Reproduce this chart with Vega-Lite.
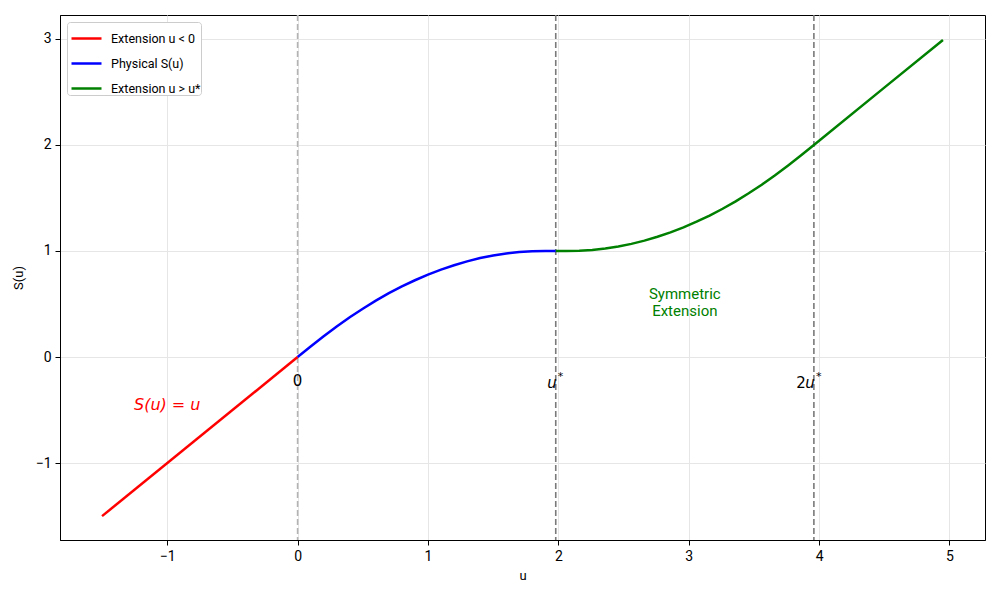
{
  "$schema": "https://vega.github.io/schema/vega-lite/v6.json",
  "width": 925,
  "height": 525,
  "autosize": {"type": "none"},
  "padding": {"left": 60, "top": 15, "right": 15, "bottom": 60},
  "background": "white",
  "config": {
    "font": "Roboto",
    "view": {"stroke": "black", "strokeWidth": 1},
    "axis": {
      "labelFont": "Roboto", "titleFont": "Roboto",
      "labelFontSize": 14, "titleFontSize": 13, "titleFontWeight": "normal",
      "labelColor": "black", "titleColor": "black",
      "tickColor": "black", "domainColor": "black", "tickSize": 5,
      "gridColor": "#e6e6e6", "gridWidth": 1
    }
  },
  "datasets": {
    "curves": [
      {"series": "Extension u < 0", "u": -1.5, "S": -1.5},
      {"series": "Extension u < 0", "u": 0, "S": 0},
      {"series": "Physical S(u)", "u": 0, "S": 0},
      {"series": "Physical S(u)", "u": 0.1, "S": 0.1},
      {"series": "Physical S(u)", "u": 0.2, "S": 0.196},
      {"series": "Physical S(u)", "u": 0.3, "S": 0.288},
      {"series": "Physical S(u)", "u": 0.4, "S": 0.375},
      {"series": "Physical S(u)", "u": 0.5, "S": 0.456},
      {"series": "Physical S(u)", "u": 0.6, "S": 0.532},
      {"series": "Physical S(u)", "u": 0.7, "S": 0.602},
      {"series": "Physical S(u)", "u": 0.8, "S": 0.666},
      {"series": "Physical S(u)", "u": 0.9, "S": 0.724},
      {"series": "Physical S(u)", "u": 1.0, "S": 0.777},
      {"series": "Physical S(u)", "u": 1.1, "S": 0.824},
      {"series": "Physical S(u)", "u": 1.2, "S": 0.866},
      {"series": "Physical S(u)", "u": 1.3, "S": 0.902},
      {"series": "Physical S(u)", "u": 1.4, "S": 0.933},
      {"series": "Physical S(u)", "u": 1.5, "S": 0.958},
      {"series": "Physical S(u)", "u": 1.6, "S": 0.977},
      {"series": "Physical S(u)", "u": 1.7, "S": 0.99},
      {"series": "Physical S(u)", "u": 1.8, "S": 0.997},
      {"series": "Physical S(u)", "u": 1.9, "S": 0.9995},
      {"series": "Physical S(u)", "u": 1.98, "S": 1.0},
      {"series": "Extension u > u*", "u": 1.98, "S": 1.0},
      {"series": "Extension u > u*", "u": 2.06, "S": 1.0005},
      {"series": "Extension u > u*", "u": 2.16, "S": 1.003},
      {"series": "Extension u > u*", "u": 2.26, "S": 1.01},
      {"series": "Extension u > u*", "u": 2.36, "S": 1.023},
      {"series": "Extension u > u*", "u": 2.46, "S": 1.042},
      {"series": "Extension u > u*", "u": 2.56, "S": 1.067},
      {"series": "Extension u > u*", "u": 2.66, "S": 1.098},
      {"series": "Extension u > u*", "u": 2.76, "S": 1.134},
      {"series": "Extension u > u*", "u": 2.86, "S": 1.176},
      {"series": "Extension u > u*", "u": 2.96, "S": 1.223},
      {"series": "Extension u > u*", "u": 3.06, "S": 1.276},
      {"series": "Extension u > u*", "u": 3.16, "S": 1.334},
      {"series": "Extension u > u*", "u": 3.26, "S": 1.398},
      {"series": "Extension u > u*", "u": 3.36, "S": 1.468},
      {"series": "Extension u > u*", "u": 3.46, "S": 1.544},
      {"series": "Extension u > u*", "u": 3.56, "S": 1.625},
      {"series": "Extension u > u*", "u": 3.66, "S": 1.712},
      {"series": "Extension u > u*", "u": 3.76, "S": 1.804},
      {"series": "Extension u > u*", "u": 3.86, "S": 1.9},
      {"series": "Extension u > u*", "u": 3.96, "S": 2.0},
      {"series": "Extension u > u*", "u": 4.5, "S": 2.54},
      {"series": "Extension u > u*", "u": 4.95, "S": 2.99}
    ]
  },
  "layer": [
    {
      "data": {"values": [{"u": 0}]},
      "mark": {"type": "rule", "color": "#b3b3b3", "strokeWidth": 1.6, "strokeDash": [6, 3]},
      "encoding": {"x": {"field": "u", "type": "quantitative", "scale": {"domain": [-1.8225, 5.2725], "nice": false, "zero": false}}}
    },
    {
      "data": {"values": [{"u": 1.98}, {"u": 3.96}]},
      "mark": {"type": "rule", "color": "#7a7a7a", "strokeWidth": 1.6, "strokeDash": [6, 3]},
      "encoding": {"x": {"field": "u", "type": "quantitative"}}
    },
    {
      "data": {"name": "curves"},
      "mark": {"type": "line", "strokeWidth": 2.5, "clip": true},
      "encoding": {
        "x": {"field": "u", "type": "quantitative", "title": "u",
              "scale": {"domain": [-1.8225, 5.2725], "nice": false, "zero": false},
              "axis": {"values": [-1, 0, 1, 2, 3, 4, 5], "format": "d", "labelPadding": 4, "titlePadding": 6}},
        "y": {"field": "S", "type": "quantitative", "title": "S(u)",
              "scale": {"domain": [-1.725, 3.225], "nice": false, "zero": false},
              "axis": {"values": [-1, 0, 1, 2, 3], "format": "d", "labelPadding": 4, "titlePadding": 10}},
        "color": {"field": "series", "type": "nominal",
                  "scale": {"domain": ["Extension u < 0", "Physical S(u)", "Extension u > u*"], "range": ["#ff0000", "#0000ff", "#008000"]},
                  "legend": {"title": null, "orient": "top-left", "offset": 7,
                             "symbolType": "stroke", "symbolSize": 900, "symbolStrokeWidth": 2.5,
                             "labelFont": "Roboto", "labelFontSize": 12.5, "labelColor": "black",
                             "rowPadding": 2, "padding": 0, "fillColor": "white",
                             "strokeColor": "#cccccc", "cornerRadius": 3, "symbolOffset": 3, "labelOffset": 8}},
        "detail": {"field": "series"},
        "order": {"field": "u", "type": "quantitative"}
      }
    },
    {
      "data": {"values": [{"u": 0, "S": -0.23, "t": "0"}]},
      "mark": {"type": "text", "fontSize": 15, "font": "DejaVu Sans", "color": "black", "align": "center", "baseline": "middle"},
      "encoding": {"x": {"field": "u", "type": "quantitative"}, "y": {"field": "S", "type": "quantitative"}, "text": {"field": "t"}}
    },
    {
      "data": {"values": [{"u": 1.98, "S": -0.24, "t": "u"}, {"u": 3.96, "S": -0.24, "t": "u"}]},
      "mark": {"type": "text", "fontSize": 15, "font": "DejaVu Sans", "fontStyle": "italic", "color": "black", "align": "right", "baseline": "middle", "dx": 1},
      "encoding": {"x": {"field": "u", "type": "quantitative"}, "y": {"field": "S", "type": "quantitative"}, "text": {"field": "t"}}
    },
    {
      "data": {"values": [{"u": 3.96, "S": -0.24, "t": "2"}]},
      "mark": {"type": "text", "fontSize": 15, "font": "DejaVu Sans", "color": "black", "align": "right", "baseline": "middle", "dx": -8},
      "encoding": {"x": {"field": "u", "type": "quantitative"}, "y": {"field": "S", "type": "quantitative"}, "text": {"field": "t"}}
    },
    {
      "data": {"values": [{"u": 1.98, "S": -0.24, "t": "*"}, {"u": 3.96, "S": -0.24, "t": "*"}]},
      "mark": {"type": "text", "fontSize": 11, "font": "DejaVu Sans", "color": "black", "align": "left", "baseline": "middle", "dx": 2, "dy": -6},
      "encoding": {"x": {"field": "u", "type": "quantitative"}, "y": {"field": "S", "type": "quantitative"}, "text": {"field": "t"}}
    },
    {
      "data": {"values": [{"u": -1.0, "S": -0.45, "t": "S(u) = u"}]},
      "mark": {"type": "text", "fontSize": 16, "font": "DejaVu Sans", "fontStyle": "italic", "color": "#ff0000", "align": "center", "baseline": "middle"},
      "encoding": {"x": {"field": "u", "type": "quantitative"}, "y": {"field": "S", "type": "quantitative"}, "text": {"field": "t"}}
    },
    {
      "data": {"values": [{"u": 2.97, "S": 0.66, "t": ["Symmetric", "Extension"]}]},
      "mark": {"type": "text", "fontSize": 15, "font": "Roboto", "color": "#008000", "align": "center", "baseline": "top", "lineHeight": 17},
      "encoding": {"x": {"field": "u", "type": "quantitative"}, "y": {"field": "S", "type": "quantitative"}, "text": {"field": "t"}}
    }
  ]
}
